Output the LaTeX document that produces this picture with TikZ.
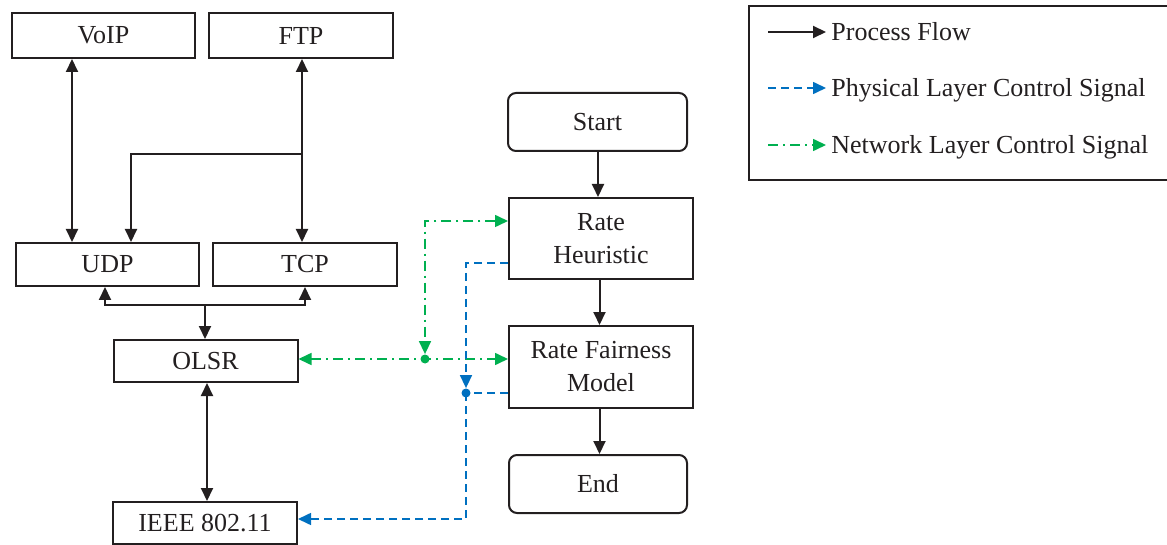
\documentclass[tikz,border=0pt]{standalone}
\usepackage{fontspec}
\setmainfont{Liberation Serif}
\usetikzlibrary{arrows.meta}
\definecolor{ink}{RGB}{35,31,32}
\definecolor{phyblue}{RGB}{0,112,192}
\definecolor{netgreen}{RGB}{0,176,80}

\begin{document}
\begin{tikzpicture}[x=0.5pt,y=-0.5pt,
  >={Triangle[length=6.5pt,width=6pt]},
  box/.style={draw=ink,line width=1pt,minimum width=91.5pt,minimum height=21.5pt,
    inner sep=0pt,align=center,text=ink,font=\fontsize{13}{16.5}\selectfont},
  rbox/.style={box,rounded corners=4pt},
  flow/.style={ink,line width=1pt},
  phy/.style={phyblue,line width=0.8pt,dash pattern=on 4pt off 2.5pt},
  net/.style={netgreen,line width=0.8pt,dash pattern=on 5pt off 2.5pt on 1pt off 2.5pt},
  jdot/.style={circle,fill,inner sep=0pt,minimum size=4.5pt}]
\useasboundingbox (0,0) rectangle (1167,545);
\clip (0,0) rectangle (1167,545);

% protocol stack
\node[box,minimum height=22.5pt] (voip) at (103.5,35.5) {VoIP};
\node[box,minimum width=92pt,minimum height=22.5pt] (ftp) at (301,35.5) {FTP};
\node[box] (udp) at (107.5,264.5) {UDP};
\node[box,minimum width=92pt] (tcp) at (305,264.5) {TCP};
\node[box,minimum width=92pt,minimum height=21pt] (olsr) at (205.5,361) {OLSR};
\node[box,minimum width=92pt,minimum height=21pt] (ieee) at (205,523) {IEEE 802.11};

\draw[flow,<->] (voip.south -| 72,0) -- (udp.north -| 72,0);
\draw[flow,<->] (ftp.south -| 302,0) -- (tcp.north -| 302,0);
\coordinate (split) at (302,154);
\draw[flow,->] (split) -| (udp.north -| 131,0);

\coordinate (fork) at (205,305);
\draw[flow,->] (fork) -- (olsr.north -| fork);
\draw[flow,->] (fork) -| (udp.south -| 105,0);
\draw[flow,->] (fork) -| (tcp.south -| 305,0);
\draw[flow,<->] (olsr.south -| 207,0) -- (ieee.north -| 207,0);

% rate control
\node[rbox,minimum width=89.5pt,minimum height=29pt] (start) at (597.5,122) {Start};
\node[box,minimum width=92pt,minimum height=40.5pt] (heur) at (601,238.5) {Rate\\Heuristic};
\node[box,minimum width=92pt,minimum height=41pt] (rfm) at (601,367) {Rate Fairness\\Model};
\node[rbox,minimum width=89pt,minimum height=29pt] (stop) at (598,484) {End};

\draw[flow,->] (start.south -| 598,0) -- (heur.north -| 598,0);
\draw[flow,->] (heur.south -| 599.5,0) -- (rfm.north -| 599.5,0);
\draw[flow,->] (rfm.south -| 599.5,0) -- (stop.north -| 599.5,0);

% network layer signal
\node[jdot,netgreen] (gdot) at (425,359) {};
\draw[net,<->] (heur.west |- 0,221) -| (gdot.north);
\draw[net,<->] (olsr.east |- gdot) -- (rfm.west |- gdot);

% physical layer signal
\node[jdot,phyblue] (bdot) at (466,393) {};
\draw[phy,->] (heur.west |- 0,263) -| (bdot.north);
\draw[phy] (rfm.west |- bdot) -- (bdot.center);
\draw[phy,->] (bdot.center) |- (ieee.east |- 0,519);

% legend
\draw[ink,line width=1pt] (749,6) rectangle (1180,180);
\foreach \y/\sty/\txt in {32/flow/Process Flow,
    88/phy/Physical Layer Control Signal,
    145/net/Network Layer Control Signal} {
  \coordinate (k\y) at (768,\y);
  \node[anchor=base west,inner sep=0pt,text=ink,font=\fontsize{13}{16.5}\selectfont]
    (t\y) at (831,\y+9) {\txt};
  \draw[\sty,->,shorten >=2.5pt] (k\y) -- (t\y.west |- k\y);
}
\end{tikzpicture}
\end{document}
